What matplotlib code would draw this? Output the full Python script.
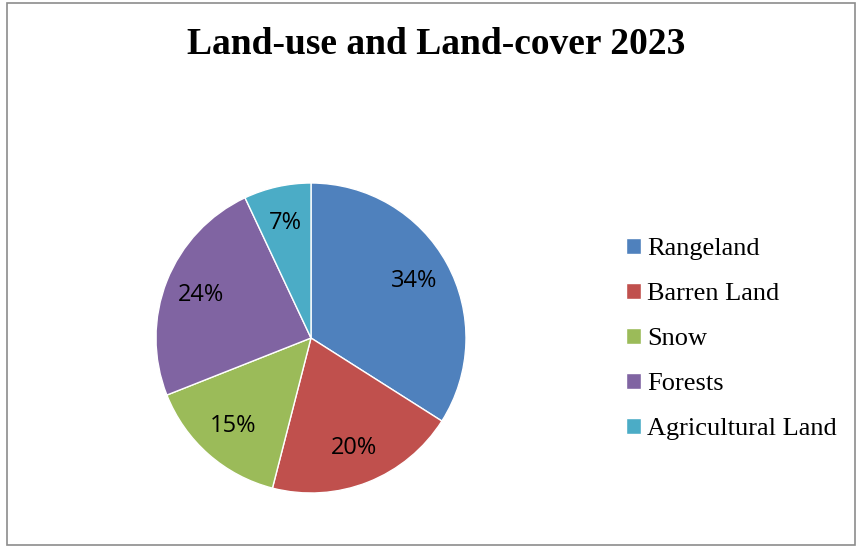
import matplotlib.pyplot as plt
from matplotlib.patches import Rectangle

# Land-use categories and their share (percent)
categories = ['Rangeland', 'Barren Land', 'Snow', 'Forests', 'Agricultural Land']
shares = [34, 20, 15, 24, 7]
colors = ['#4F81BD', '#C0504D', '#9BBB59', '#8064A2', '#4BACC6']

fig = plt.figure(figsize=(8.57, 5.48), dpi=100)

# outer chart border
fig.patches.append(Rectangle((7 / 857, 3 / 548), 848 / 857, 542 / 548,
                             transform=fig.transFigure, fill=False,
                             edgecolor='#8c8c8c', linewidth=1.2))

ax = fig.add_axes([156 / 857, 55 / 548, 310 / 857, 310 / 548])
wedges, texts, autotexts = ax.pie(
    shares, colors=colors, startangle=90, counterclock=False,
    autopct='%1.0f%%', pctdistance=0.76, radius=1,
    wedgeprops=dict(edgecolor='white', linewidth=1),
    textprops=dict(family=['Open Sans', 'DejaVu Sans'], fontsize=17, color='black'))
ax.set_xlim(-1, 1)
ax.set_ylim(-1, 1)
ax.set_aspect('equal')

fig.text(436 / 857, 1 - 45 / 548, 'Land-use and Land-cover 2023',
         ha='center', va='center', fontsize=27, fontweight='bold',
         family=['Liberation Serif', 'DejaVu Serif'])

leg = fig.legend(wedges, categories, loc='center left',
                 bbox_to_anchor=(626 / 857, 1 - 339 / 548), frameon=False,
                 prop=dict(family=['Liberation Serif', 'DejaVu Serif'], size=19),
                 handlelength=0.55, handleheight=0.55, handletextpad=0.25,
                 labelspacing=0.86, borderaxespad=0, borderpad=0)

fig.savefig('out.png', dpi=100)
